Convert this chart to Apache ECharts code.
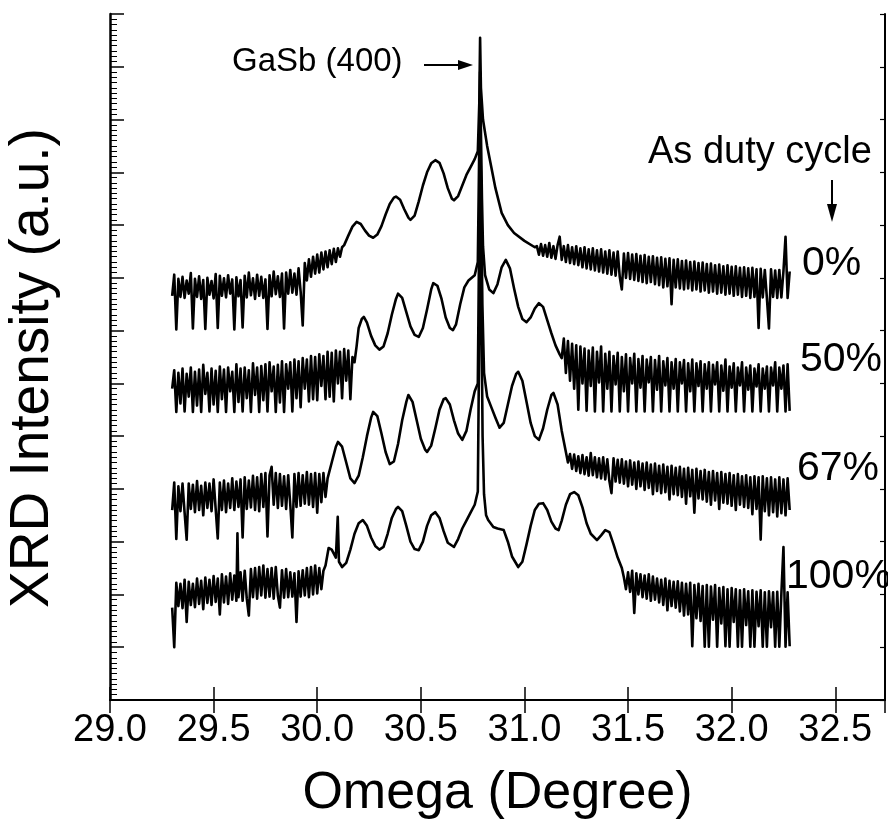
<!DOCTYPE html>
<html>
<head>
<meta charset="utf-8">
<script src="https://cdn.jsdelivr.net/npm/echarts@6/dist/echarts.min.js"></script>
<style>html,body{margin:0;padding:0;background:#fff}#c{width:888px;height:827px}</style>
</head>
<body>
<div id="c"></div>
<script>
// x axis (Omega, degree)
const xMin = 29.0, xMax = 32.74, xStep = 0.5;
// y axis (arbitrary units, curves offset)
const yMin = 0, yMax = 13, yStep = 1;
const curveLabels = ['0%', '50%', '67%', '100%'];

// As duty cycle 0%
const pct0 = [[29.30,7.66],[29.31,8.06],[29.32,7.02],[29.33,7.98],[29.34,7.64],[29.35,8.02],[29.36,7.62],[29.37,7.95],[29.38,7.70],[29.39,8.09],[29.40,7.04],[29.41,7.98],[29.42,7.64],[29.43,8.03],[29.44,7.60],[29.45,7.96],[29.46,7.03],[29.47,8.00],[29.48,7.68],[29.49,7.94],[29.50,7.61],[29.51,8.07],[29.52,7.05],[29.53,8.04],[29.54,7.66],[29.55,7.99],[29.56,7.63],[29.57,8.05],[29.58,7.70],[29.59,7.97],[29.60,7.02],[29.61,8.01],[29.62,7.65],[29.63,7.96],[29.64,7.06],[29.65,8.04],[29.66,7.63],[29.67,8.10],[29.68,7.67],[29.69,7.99],[29.70,7.60],[29.71,8.06],[29.72,7.66],[29.73,8.02],[29.74,7.62],[29.75,7.97],[29.76,7.03],[29.77,8.05],[29.78,7.65],[29.79,8.12],[29.80,7.69],[29.81,8.03],[29.82,7.64],[29.83,8.08],[29.84,7.04],[29.85,8.10],[29.86,7.70],[29.87,8.15],[29.88,7.72],[29.89,8.08],[29.90,7.68],[29.91,8.18],[29.92,7.74],[29.93,7.10],[29.94,8.28],[29.95,7.95],[29.96,8.35],[29.97,8.02],[29.98,8.40],[29.99,8.08],[30.00,8.44],[30.01,8.10],[30.02,8.48],[30.03,8.16],[30.04,8.50],[30.05,8.20],[30.06,8.52],[30.07,8.26],[30.08,8.55],[30.09,8.30],[30.10,8.56],[30.11,8.40],[30.12,8.58],
[30.13,8.62],[30.15,8.80],[30.17,8.97],[30.19,9.06],[30.21,9.02],[30.23,8.90],[30.25,8.80],[30.27,8.76],[30.29,8.82],[30.31,8.98],[30.33,9.20],[30.35,9.40],[30.37,9.52],[30.38,9.54],[30.40,9.48],[30.42,9.30],[30.44,9.14],[30.45,9.10],[30.47,9.18],[30.49,9.45],[30.51,9.75],[30.53,10.00],[30.55,10.17],[30.57,10.23],[30.59,10.18],[30.61,9.98],[30.63,9.70],[30.65,9.50],[30.66,9.47],[30.68,9.55],[30.70,9.75],[30.72,9.95],[30.74,10.10],[30.76,10.25],[30.775,10.40],[30.782,11.3],[30.786,12.55],[30.79,11.6],[30.795,11.3],[30.80,11.0],[30.82,10.5],[30.84,10.10],[30.86,9.70],[30.89,9.23],[30.92,9.00],[30.95,8.85],[31.00,8.70],[31.05,8.58],
[31.06,8.60],[31.07,8.44],[31.08,8.64],[31.09,8.42],[31.10,8.62],[31.11,8.40],[31.12,8.66],[31.13,8.38],[31.14,8.60],[31.15,8.36],[31.16,8.62],[31.17,8.78],[31.18,8.34],[31.19,8.60],[31.20,8.30],[31.21,8.62],[31.22,8.28],[31.23,8.58],[31.24,8.26],[31.25,8.60],[31.26,8.24],[31.27,8.56],[31.28,8.20],[31.29,8.58],[31.30,8.18],[31.31,8.54],[31.32,8.16],[31.33,8.56],[31.34,8.14],[31.35,8.52],[31.36,8.12],[31.37,8.54],[31.38,8.10],[31.39,8.50],[31.40,8.08],[31.41,8.52],[31.42,8.06],[31.43,8.48],[31.44,8.04],[31.45,8.50],[31.46,8.02],[31.47,7.78],[31.48,8.46],[31.49,8.00],[31.50,8.47],[31.51,7.98],[31.52,8.44],[31.53,7.96],[31.54,8.45],[31.55,7.94],[31.56,8.42],[31.57,7.92],[31.58,8.43],[31.59,7.90],[31.60,8.40],[31.61,7.92],[31.62,8.41],[31.63,7.88],[31.64,8.38],[31.65,7.86],[31.66,8.39],[31.67,7.82],[31.68,8.36],[31.69,7.84],[31.70,8.37],[31.71,7.50],[31.72,8.34],[31.73,7.82],[31.74,8.35],[31.75,7.80],[31.76,8.32],[31.77,7.78],[31.78,8.33],[31.79,7.80],[31.80,8.30],[31.81,7.76],[31.82,8.31],[31.83,7.78],[31.84,8.28],[31.85,7.74],[31.86,8.29],[31.87,7.76],[31.88,8.26],[31.89,7.72],[31.90,8.27],[31.91,7.74],[31.92,8.24],[31.93,7.70],[31.94,8.25],[31.95,7.72],[31.96,8.22],[31.97,7.68],[31.98,8.24],[31.99,7.70],[32.00,8.21],[32.01,7.66],[32.02,8.22],[32.03,7.68],[32.04,8.19],[32.05,7.64],[32.06,8.20],[32.07,7.66],[32.08,8.18],[32.09,7.62],[32.10,8.19],[32.11,7.64],[32.12,8.16],[32.13,7.05],[32.14,8.17],[32.15,7.63],[32.16,8.15],[32.17,7.62],[32.18,7.04],[32.19,8.16],[32.20,7.64],[32.21,8.14],[32.22,7.62],[32.23,8.15],[32.24,7.63],[32.25,8.13],[32.26,8.78],[32.27,7.62],[32.28,8.12]];

// As duty cycle 50%
const pct50 = [[29.30,5.90],[29.31,6.25],[29.32,5.46],[29.33,6.20],[29.34,5.62],[29.35,6.28],[29.36,5.47],[29.37,6.18],[29.38,5.75],[29.39,6.30],[29.40,5.46],[29.41,6.22],[29.42,5.58],[29.43,6.26],[29.44,5.46],[29.45,6.35],[29.46,5.80],[29.47,6.20],[29.48,5.47],[29.49,6.28],[29.50,5.60],[29.51,6.24],[29.52,5.46],[29.53,6.32],[29.54,5.70],[29.55,6.26],[29.56,5.46],[29.57,6.30],[29.58,5.85],[29.59,6.22],[29.60,5.46],[29.61,6.36],[29.62,5.65],[29.63,6.28],[29.64,5.47],[29.65,6.30],[29.66,5.72],[29.67,6.25],[29.68,5.46],[29.69,6.38],[29.70,5.78],[29.71,6.30],[29.72,5.46],[29.73,6.33],[29.74,5.68],[29.75,6.36],[29.76,5.47],[29.77,6.40],[29.78,5.85],[29.79,6.32],[29.80,5.46],[29.81,6.35],[29.82,5.64],[29.83,6.42],[29.84,5.46],[29.85,6.36],[29.86,5.90],[29.87,6.40],[29.88,5.47],[29.89,6.45],[29.90,5.72],[29.91,6.42],[29.92,5.55],[29.93,6.48],[29.94,5.90],[29.95,6.45],[29.96,5.66],[29.97,6.52],[29.98,5.70],[29.99,6.50],[30.00,5.68],[30.01,6.55],[30.02,5.95],[30.03,6.52],[30.04,5.70],[30.05,6.60],[30.06,5.75],[30.07,6.58],[30.08,5.66],[30.09,6.62],[30.10,6.00],[30.11,6.60],[30.12,5.72],[30.13,6.65],[30.14,6.05],[30.15,6.62],[30.16,5.70],[30.17,6.50],[30.18,6.40],
[30.19,6.70],[30.20,7.05],[30.215,7.22],[30.225,7.26],[30.24,7.15],[30.26,6.90],[30.28,6.72],[30.30,6.64],[30.32,6.70],[30.34,6.95],[30.36,7.30],[30.38,7.60],[30.39,7.70],[30.41,7.62],[30.43,7.35],[30.45,7.08],[30.47,6.92],[30.49,6.88],[30.51,7.05],[30.53,7.40],[30.55,7.78],[30.56,7.90],[30.58,7.85],[30.60,7.60],[30.62,7.25],[30.64,7.05],[30.655,7.01],[30.67,7.12],[30.69,7.50],[30.71,7.82],[30.73,7.95],[30.76,8.05],[30.775,8.30],[30.782,10.5],[30.786,11.9],[30.79,10.8],[30.795,9.5],[30.80,8.6],[30.81,8.05],[30.83,7.78],[30.85,7.71],[30.87,7.88],[30.89,8.20],[30.91,8.34],[30.93,8.18],[30.95,7.80],[30.97,7.45],[30.99,7.22],[31.01,7.16],[31.03,7.25],[31.05,7.42],[31.07,7.52],[31.09,7.45],[31.11,7.20],[31.13,6.95],[31.15,6.72],[31.17,6.55],
[31.18,6.48],[31.19,6.85],[31.20,6.20],[31.21,6.80],[31.22,6.05],[31.23,6.75],[31.24,5.90],[31.25,6.72],[31.26,5.50],[31.27,6.70],[31.28,6.00],[31.29,6.66],[31.30,5.48],[31.31,6.62],[31.32,5.95],[31.33,6.68],[31.34,5.47],[31.35,6.60],[31.36,6.02],[31.37,6.70],[31.38,5.47],[31.39,6.56],[31.40,5.90],[31.41,6.60],[31.42,5.47],[31.43,6.52],[31.44,5.98],[31.45,6.58],[31.46,5.47],[31.47,6.50],[31.48,5.85],[31.49,6.55],[31.50,5.47],[31.51,6.48],[31.52,6.00],[31.53,6.56],[31.54,5.47],[31.55,6.46],[31.56,5.92],[31.57,6.52],[31.58,5.47],[31.59,6.45],[31.60,6.02],[31.61,6.50],[31.62,5.47],[31.63,6.44],[31.64,5.88],[31.65,6.52],[31.66,5.47],[31.67,6.42],[31.68,5.96],[31.69,6.48],[31.70,5.47],[31.71,6.40],[31.72,5.90],[31.73,6.46],[31.74,5.47],[31.75,6.40],[31.76,6.00],[31.77,6.44],[31.78,5.47],[31.79,6.38],[31.80,5.85],[31.81,6.45],[31.82,5.47],[31.83,6.38],[31.84,5.95],[31.85,6.42],[31.86,5.47],[31.87,6.36],[31.88,5.90],[31.89,6.40],[31.90,5.47],[31.91,6.35],[31.92,5.98],[31.93,6.40],[31.94,5.47],[31.95,6.34],[31.96,5.86],[31.97,6.45],[31.98,5.47],[31.99,6.32],[32.00,5.92],[32.01,6.38],[32.02,5.47],[32.03,6.30],[32.04,5.96],[32.05,6.40],[32.06,5.47],[32.07,6.30],[32.08,5.88],[32.09,6.34],[32.10,5.47],[32.11,6.28],[32.12,5.94],[32.13,6.36],[32.14,5.47],[32.15,6.28],[32.16,5.90],[32.17,6.32],[32.18,5.47],[32.19,6.30],[32.20,5.96],[32.21,6.40],[32.22,5.47],[32.23,6.30],[32.24,5.90],[32.25,6.34],[32.26,5.47],[32.27,6.36],[32.28,5.48]];

// As duty cycle 67%
const pct67 = [[29.30,3.60],[29.31,4.12],[29.32,3.05],[29.33,4.05],[29.34,3.58],[29.35,4.10],[29.36,3.55],[29.37,3.04],[29.38,4.10],[29.39,3.62],[29.40,4.08],[29.41,3.56],[29.42,4.15],[29.43,3.60],[29.44,4.06],[29.45,3.50],[29.46,4.12],[29.47,3.64],[29.48,4.10],[29.49,3.58],[29.50,4.18],[29.51,3.62],[29.52,3.06],[29.53,4.12],[29.54,3.60],[29.55,4.16],[29.56,3.56],[29.57,4.10],[29.58,3.64],[29.59,4.20],[29.60,3.60],[29.61,4.14],[29.62,3.66],[29.63,4.18],[29.64,3.08],[29.65,4.22],[29.66,3.62],[29.67,4.16],[29.68,3.65],[29.69,4.25],[29.70,3.60],[29.71,4.22],[29.72,3.58],[29.73,4.28],[29.74,3.66],[29.75,4.30],[29.76,3.10],[29.77,4.26],[29.78,4.42],[29.79,3.70],[29.80,4.30],[29.81,3.64],[29.82,4.28],[29.83,3.68],[29.84,4.24],[29.85,3.62],[29.86,4.26],[29.87,3.70],[29.88,3.08],[29.89,4.28],[29.90,3.66],[29.91,4.30],[29.92,3.68],[29.93,4.26],[29.94,3.72],[29.95,4.32],[29.96,3.70],[29.97,4.28],[29.98,3.66],[29.99,4.30],[30.00,3.55],[30.01,4.28],[30.02,3.75],[30.03,4.30],[30.04,3.85],
[30.05,4.20],[30.07,4.50],[30.09,4.80],[30.10,4.89],[30.12,4.80],[30.14,4.50],[30.16,4.20],[30.18,4.11],[30.20,4.25],[30.22,4.60],[30.24,5.00],[30.26,5.35],[30.27,5.46],[30.29,5.38],[30.31,5.05],[30.33,4.70],[30.35,4.47],[30.37,4.52],[30.39,4.85],[30.41,5.30],[30.43,5.65],[30.44,5.78],[30.46,5.65],[30.48,5.30],[30.50,4.95],[30.52,4.75],[30.53,4.70],[30.55,4.82],[30.57,5.15],[30.59,5.50],[30.61,5.70],[30.62,5.72],[30.64,5.60],[30.66,5.30],[30.68,5.05],[30.70,4.93],[30.72,5.10],[30.74,5.50],[30.76,5.85],[30.775,6.0],[30.782,9.0],[30.787,10.8],[30.792,9.2],[30.797,7.5],[30.805,6.2],[30.82,5.75],[30.84,5.55],[30.86,5.35],[30.88,5.16],[30.90,5.25],[30.92,5.60],[30.94,5.95],[30.96,6.18],[30.97,6.22],[30.99,6.05],[31.01,5.65],[31.03,5.25],[31.05,5.00],[31.07,4.93],[31.09,5.15],[31.11,5.50],[31.13,5.78],[31.14,5.82],[31.16,5.60],[31.18,5.10],[31.20,4.70],
[31.21,4.50],[31.22,4.66],[31.23,4.38],[31.24,4.65],[31.25,4.34],[31.26,4.62],[31.27,4.30],[31.28,4.64],[31.29,4.28],[31.30,4.60],[31.31,4.25],[31.32,4.68],[31.33,4.26],[31.34,4.60],[31.35,4.22],[31.36,4.58],[31.37,4.20],[31.38,4.60],[31.39,4.18],[31.40,4.56],[31.41,4.15],[31.42,3.92],[31.43,4.58],[31.44,4.14],[31.45,4.55],[31.46,4.12],[31.47,4.56],[31.48,4.10],[31.49,4.52],[31.50,4.05],[31.51,4.54],[31.52,4.08],[31.53,4.50],[31.54,4.00],[31.55,4.52],[31.56,4.05],[31.57,4.48],[31.58,3.98],[31.59,4.50],[31.60,4.02],[31.61,4.46],[31.62,3.90],[31.63,4.48],[31.64,3.96],[31.65,4.44],[31.66,3.92],[31.67,4.46],[31.68,3.94],[31.69,4.42],[31.70,3.80],[31.71,4.44],[31.72,3.90],[31.73,4.40],[31.74,3.88],[31.75,4.42],[31.76,3.85],[31.77,4.38],[31.78,3.72],[31.79,4.40],[31.80,3.86],[31.81,4.36],[31.82,3.55],[31.83,4.38],[31.84,3.82],[31.85,4.34],[31.86,3.80],[31.87,4.36],[31.88,3.76],[31.89,4.32],[31.90,3.70],[31.91,4.34],[31.92,3.78],[31.93,4.30],[31.94,3.62],[31.95,4.32],[31.96,3.74],[31.97,4.28],[31.98,3.72],[31.99,4.30],[32.00,3.68],[32.01,4.26],[32.02,3.60],[32.03,4.28],[32.04,3.70],[32.05,4.24],[32.06,3.66],[32.07,4.26],[32.08,3.64],[32.09,4.22],[32.10,3.52],[32.11,4.24],[32.12,3.62],[32.13,4.22],[32.14,3.04],[32.15,4.24],[32.16,3.58],[32.17,4.20],[32.18,3.50],[32.19,4.22],[32.20,3.56],[32.21,4.18],[32.22,3.48],[32.23,4.22],[32.24,3.54],[32.25,4.18],[32.26,3.50],[32.27,4.20],[32.28,3.60]];

// As duty cycle 100%
const pct100 = [[29.30,1.75],[29.31,1.00],[29.32,2.22],[29.33,1.78],[29.34,2.20],[29.35,1.74],[29.36,2.28],[29.37,1.48],[29.38,2.24],[29.39,1.80],[29.40,2.20],[29.41,1.76],[29.42,2.30],[29.43,1.82],[29.44,2.26],[29.45,1.72],[29.46,2.32],[29.47,1.84],[29.48,2.28],[29.49,1.80],[29.50,2.35],[29.51,1.86],[29.52,2.30],[29.53,1.62],[29.54,2.38],[29.55,1.85],[29.56,2.34],[29.57,1.82],[29.58,2.40],[29.59,1.90],[29.60,2.36],[29.61,1.88],[29.615,3.16],[29.62,1.95],[29.63,2.42],[29.64,1.88],[29.65,2.45],[29.66,1.92],[29.67,1.60],[29.68,2.48],[29.69,1.95],[29.70,2.50],[29.71,1.92],[29.72,2.52],[29.73,1.98],[29.74,2.55],[29.75,1.94],[29.76,2.48],[29.77,1.96],[29.78,2.50],[29.79,1.92],[29.80,2.52],[29.81,1.98],[29.82,1.75],[29.83,2.46],[29.84,1.94],[29.85,2.48],[29.86,1.95],[29.87,2.42],[29.88,1.96],[29.89,2.40],[29.90,1.48],[29.91,2.44],[29.92,1.96],[29.93,2.46],[29.94,1.98],[29.95,2.50],[29.96,1.95],[29.97,2.52],[29.98,2.00],[29.99,2.55],[30.00,2.02],[30.01,2.50],[30.02,2.10],[30.03,2.45],
[30.04,2.55],[30.055,2.88],[30.07,2.85],[30.09,2.70],[30.099,3.47],[30.105,2.62],[30.12,2.52],[30.14,2.60],[30.16,2.85],[30.18,3.15],[30.20,3.35],[30.22,3.41],[30.24,3.30],[30.26,3.08],[30.28,2.92],[30.30,2.85],[30.32,2.90],[30.34,3.15],[30.36,3.45],[30.38,3.62],[30.39,3.66],[30.41,3.58],[30.43,3.30],[30.45,3.00],[30.47,2.86],[30.49,2.84],[30.51,3.00],[30.53,3.30],[30.55,3.50],[30.57,3.56],[30.59,3.45],[30.61,3.20],[30.63,2.98],[30.66,2.90],[30.68,3.05],[30.70,3.25],[30.72,3.40],[30.74,3.55],[30.76,3.70],[30.775,3.95],[30.782,7.0],[30.788,9.5],[30.793,7.2],[30.798,5.0],[30.805,3.90],[30.815,3.50],[30.825,3.41],[30.85,3.28],[30.87,3.25],[30.90,3.22],[30.92,3.00],[30.94,2.72],[30.97,2.52],[30.99,2.62],[31.01,2.95],[31.03,3.30],[31.05,3.60],[31.07,3.72],[31.09,3.73],[31.11,3.60],[31.13,3.38],[31.15,3.25],[31.165,3.22],[31.18,3.40],[31.20,3.70],[31.22,3.90],[31.24,3.94],[31.26,3.88],[31.28,3.65],[31.30,3.35],[31.32,3.15],[31.35,3.03],[31.37,3.12],[31.39,3.22],[31.41,3.18],[31.43,2.95],[31.45,2.70],[31.47,2.50],
[31.48,2.32],[31.49,2.10],[31.50,2.42],[31.51,2.05],[31.52,2.45],[31.53,1.65],[31.54,2.40],[31.55,2.00],[31.56,2.38],[31.57,1.95],[31.58,2.36],[31.59,1.92],[31.60,2.38],[31.61,1.88],[31.62,2.34],[31.63,1.90],[31.64,2.30],[31.65,1.85],[31.66,2.28],[31.67,1.80],[31.68,2.30],[31.69,1.70],[31.70,2.26],[31.71,1.78],[31.72,2.24],[31.73,1.75],[31.74,2.25],[31.75,1.68],[31.76,2.22],[31.77,1.60],[31.78,2.20],[31.79,1.62],[31.80,2.22],[31.81,1.02],[31.82,2.18],[31.83,1.55],[31.84,2.20],[31.85,1.50],[31.86,2.16],[31.87,1.01],[31.88,2.18],[31.89,1.01],[31.90,2.15],[31.91,1.52],[31.92,2.18],[31.93,1.01],[31.94,2.12],[31.95,1.45],[31.96,2.14],[31.97,1.02],[31.98,2.10],[31.99,1.01],[32.00,2.12],[32.01,1.48],[32.02,2.10],[32.03,1.01],[32.04,2.08],[32.05,1.01],[32.06,2.10],[32.07,1.42],[32.08,2.06],[32.09,1.01],[32.10,2.08],[32.11,1.01],[32.12,2.05],[32.13,1.40],[32.14,2.08],[32.15,1.01],[32.16,2.04],[32.17,1.01],[32.18,2.06],[32.19,1.38],[32.20,2.04],[32.21,1.01],[32.22,2.05],[32.23,1.01],[32.24,2.02],[32.25,2.90],[32.26,1.01],[32.27,2.04],[32.28,1.02]];

const FONT = '"Liberation Sans", Arial, Helvetica, sans-serif';
const chart = echarts.init(document.getElementById('c'), null, {renderer: 'canvas'});

function lineSeries(name, data) {
  return {
    name: name, type: 'line', data: data, showSymbol: false, symbol: 'none',
    lineStyle: {color: '#000', width: 2.6, join: 'round'}, animation: false, clip: true, z: 3
  };
}

const option = {
  backgroundColor: '#fff',
  animation: false,
  grid: {left: 110, right: 3, top: 14, bottom: 127, containLabel: false, outerBoundsMode: 'none'},
  xAxis: [{
    type: 'value', position: 'bottom', min: xMin, max: xMax, interval: xStep,
    axisLine: {lineStyle: {color: '#000', width: 2}},
    axisTick: {inside: true, length: 13, lineStyle: {color: '#000', width: 1.5}},
    axisLabel: {color: '#000', fontSize: 38, fontFamily: FONT, margin: 12, showMaxLabel: false,
      formatter: v => v.toFixed(1)},
    splitLine: {show: false},
    name: 'Omega (Degree)', nameLocation: 'middle', nameGap: 68,
    nameTextStyle: {color: '#000', fontSize: 52, fontFamily: FONT}
  }, {
    type: 'value', position: 'top', min: xMin, max: xMax, interval: xStep,
    axisLine: {lineStyle: {color: '#000', width: 2}},
    axisTick: {inside: true, length: 13, lineStyle: {color: '#000', width: 1.5}},
    axisLabel: {show: false}, splitLine: {show: false}
  }],
  yAxis: [{
    type: 'value', position: 'left', min: yMin, max: yMax, interval: yStep,
    axisLine: {lineStyle: {color: '#000', width: 2.5}},
    axisTick: {inside: true, length: 14, lineStyle: {color: '#000', width: 1.5}},
    minorTick: {show: true, splitNumber: 10, length: 7, lineStyle: {color: '#000', width: 1}},
    axisLabel: {show: false}, splitLine: {show: false},
    name: 'XRD Intensity (a.u.)', nameLocation: 'middle', nameGap: 50, nameRotate: 90,
    nameTextStyle: {color: '#000', fontSize: 55, fontFamily: FONT, padding: [0, 22, 0, 0]}
  }, {
    type: 'value', position: 'right', min: yMin, max: yMax, interval: yStep,
    axisLine: {lineStyle: {color: '#000', width: 2}},
    axisTick: {inside: true, length: 5, lineStyle: {color: '#000', width: 1.2}},
    axisLabel: {show: false}, splitLine: {show: false}
  }],
  series: [
    lineSeries(curveLabels[0], pct0),
    lineSeries(curveLabels[1], pct50),
    lineSeries(curveLabels[2], pct67),
    lineSeries(curveLabels[3], pct100)
  ],
  graphic: [
    {type: 'text', left: 232, top: 45, style: {text: 'GaSb (400)', font: '33px ' + FONT, fill: '#000'}},
    {type: 'line', shape: {x1: 424, y1: 65, x2: 462, y2: 65}, style: {stroke: '#000', lineWidth: 2}},
    {type: 'polygon', shape: {points: [[458, 60], [473, 65], [458, 70]]}, style: {fill: '#000'}},
    {type: 'text', left: 648, top: 134, style: {text: 'As duty cycle', font: '38px ' + FONT, fill: '#000'}},
    {type: 'line', shape: {x1: 832, y1: 180, x2: 832, y2: 208}, style: {stroke: '#000', lineWidth: 2}},
    {type: 'polygon', shape: {points: [[827, 204], [837, 204], [832, 222]]}, style: {fill: '#000'}},
    {type: 'text', left: 802, top: 243, style: {text: curveLabels[0], font: '41px ' + FONT, fill: '#000'}},
    {type: 'text', left: 800, top: 339, style: {text: curveLabels[1], font: '41px ' + FONT, fill: '#000'}},
    {type: 'text', left: 797, top: 448, style: {text: curveLabels[2], font: '41px ' + FONT, fill: '#000'}},
    {type: 'text', left: 786, top: 556, style: {text: curveLabels[3], font: '41px ' + FONT, fill: '#000'}}
  ]
};
chart.setOption(option);
</script>
</body>
</html>
